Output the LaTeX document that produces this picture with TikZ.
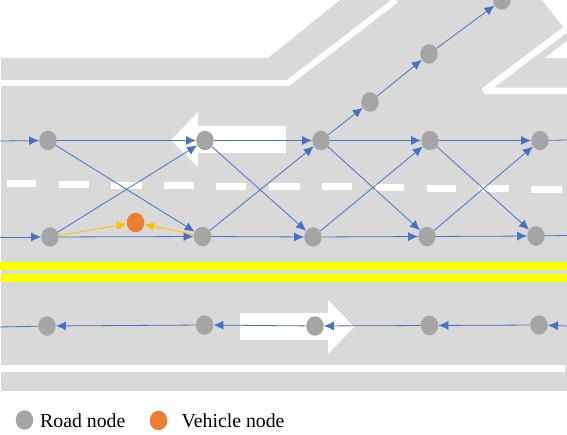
\documentclass[tikz,border=0pt]{standalone}
\usepackage{fontspec}
\setmainfont{Liberation Serif}
\usetikzlibrary{arrows.meta,shapes.geometric}
\definecolor{roadgray}{HTML}{D9D9D9}
\definecolor{nodegray}{HTML}{A5A5A5}
\definecolor{linkblue}{HTML}{4472C4}
\definecolor{vehorange}{HTML}{ED7D31}
\definecolor{linkgold}{HTML}{FFC000}
\definecolor{centeryellow}{HTML}{FFFF00}
\tikzset{
  roadnode/.style={ellipse,fill=nodegray,minimum width=17.5pt,minimum height=19.5pt,inner sep=0pt},
  vehnode/.style={ellipse,fill=vehorange,minimum width=17.5pt,minimum height=19.5pt,inner sep=0pt},
  link/.style={->,linkblue,line width=0.8pt},
  plainlink/.style={linkblue,line width=0.8pt},
  vehlink/.style={->,linkgold,line width=0.9pt},
  lanemark/.style={white,line width=7pt},
  edgemark/.style={white,line width=6pt,line join=bevel},
  centerline/.style={centeryellow,line width=8pt},
  legendtext/.style={anchor=west,inner sep=0pt,font=\fontsize{19.8}{22}\selectfont}
}
\begin{document}
\begin{tikzpicture}[x=1pt,y=-1pt,>={Latex[length=10pt,width=9pt]}]
\useasboundingbox (0,0) rectangle (567,435);
% road surface
\begin{scope}
\clip (0,0) rectangle (567,435);
\fill[roadgray] (1,58) -- (268,58) -- (340,0) -- (542,0) -- (567,32) -- (567,391) -- (1,391) -- cycle;
\draw[edgemark] (1,83) -- (288,83) -- (396,0);
\draw[edgemark,line width=6.5pt] (570,26) -- (484,91) -- (567,91);
\fill[white] (545,58) -- (567,58) -- (567,41) -- cycle;
\draw[lanemark] (1,368) -- (565,368);
\draw[centerline] (0,266) -- (567,266);
\draw[centerline] (1,278.5) -- (567,278.5);
% lane divider
\draw[lanemark] (7,183.5) -- (36,183.5);
\draw[lanemark] (59,184.5) -- (89,184.5);
\draw[lanemark] (111,185.5) -- (142,185.5);
\draw[lanemark] (164,185.5) -- (194,185.5);
\draw[lanemark] (216,186.5) -- (246,186.5);
\draw[lanemark] (269,186.5) -- (300,186.5);
\draw[lanemark] (322,186.5) -- (352,186.5);
\draw[lanemark] (374,187.5) -- (404,187.5);
\draw[lanemark] (427,188.5) -- (456,188.5);
\draw[lanemark] (479,188.5) -- (509,188.5);
\draw[lanemark] (531,189.5) -- (562,189.5);
% lane arrows
\fill[white] (171,140) -- (198,112) -- (198,126) -- (286,126) -- (286,153) -- (198,153) -- (198,167) -- cycle;
\fill[white] (354,327) -- (328,300) -- (328,313) -- (240,313) -- (240,340) -- (328,340) -- (328,354) -- cycle;
\end{scope}
% road nodes
\node[roadnode] (T1) at (48,140.5) {};
\node[roadnode] (T2) at (205,140.5) {};
\node[roadnode] (T3) at (321,140.5) {};
\node[roadnode] (T4) at (430,140.5) {};
\node[roadnode] (T5) at (540,140.5) {};
\node[roadnode] (M1) at (50,237) {};
\node[roadnode] (M2) at (202.5,236.5) {};
\node[roadnode] (M3) at (313,237) {};
\node[roadnode] (M4) at (427,236.5) {};
\node[roadnode] (M5) at (536,236) {};
\node[roadnode] (B1) at (47,326) {};
\node[roadnode] (B2) at (204.5,325) {};
\node[roadnode] (B3) at (315,326) {};
\node[roadnode] (B4) at (429.5,325.5) {};
\node[roadnode] (B5) at (539,325) {};
\node[roadnode] (R1) at (370,102) {};
\node[roadnode] (R2) at (429,54) {};
\node[roadnode] (R3) at (502,0) {};
\node[vehnode] (V) at (135.5,222.5) {};
% free ends
\coordinate (TL) at (0,141);
\coordinate (TR) at (567,140);
\coordinate (ML) at (0,237);
\coordinate (MR) at (567,235.5);
\coordinate (BL) at (0,327);
\coordinate (BR) at (567,326);
% top lane
\draw[link] (TL) -- (T1);
\draw[link] (T1) -- (T2);
\draw[link] (T2) -- (T3);
\draw[link] (T3) -- (T4);
\draw[link] (T4) -- (T5);
\draw[plainlink] (T5) -- (TR);
% middle lane
\draw[link] (ML) -- (M1);
\draw[link] (M1) -- (M2);
\draw[link] (M2) -- (M3);
\draw[link] (M3) -- (M4);
\draw[link] (M4) -- (M5);
\draw[plainlink] (M5) -- (MR);
% lane changes
\draw[link] (T1) -- (M2);
\draw[link] (T2) -- (M3);
\draw[link] (T3) -- (M4);
\draw[link] (T4) -- (M5);
\draw[link] (M1) -- (T2);
\draw[link] (M2) -- (T3);
\draw[link] (M3) -- (T4);
\draw[link] (M4) -- (T5);
% ramp
\draw[link] (T3) -- (R1);
\draw[link] (R1) -- (R2);
\draw[link] (R2) -- (R3);
% opposite lane
\draw[link] (BR) -- (B5);
\draw[link] (B5) -- (B4);
\draw[link] (B4) -- (B3);
\draw[link] (B3) -- (B2);
\draw[link] (B2) -- (B1);
\draw[plainlink] (B1) -- (BL);
% vehicle links
\draw[vehlink] (M1) -- (V);
\draw[vehlink] (M2) -- (V);
% legend
\node[roadnode] (legroad) at (24.5,420) {};
\node[legendtext] (legroadtext) at (40,420.5) {Road node};
\node[vehnode] (legveh) at (158.5,420.5) {};
\node[legendtext] (legvehtext) at (181.5,420.5) {Vehicle node};
\end{tikzpicture}
\end{document}
